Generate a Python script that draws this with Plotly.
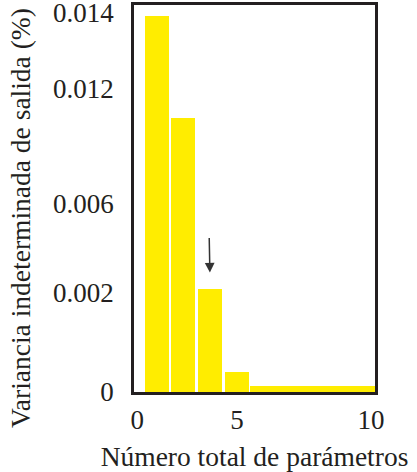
import numpy as np
import plotly.graph_objects as go

# ---- data ----
params = [2, 3, 4, 5]
variance = [0.0139, 0.0105, 0.0022, 0.0004]
tail_params = [6, 7, 8, 9, 10]
tail_variance = [0.00012, 0.00012, 0.00012, 0.00012, 0.00012]

y_tick_values = [0, 0.002, 0.006, 0.012, 0.014]
y_tick_labels = ["0", "0.002", "0.006", "0.012", "0.014"]
x_tick_labels = ["0", "5", "10"]
arrow_param = 4

# ---- layout constants ----
# the source figure uses an unevenly spaced value axis; display positions of its ticks:
Y_TICK_POS = [0, 99, 188, 303, 379.5]
Y_RANGE = [0, 387]
X_RANGE = [1.157, 10.149]
x_tick_pos = [X_RANGE[0] + 0.12, 5, 10]

FRAME = "#231f20"
YELLOW = "#ffed00"
FONT = "Liberation Serif"


def to_display(v):
    return np.interp(v, y_tick_values, Y_TICK_POS)


fig = go.Figure()
fig.add_trace(go.Bar(
    x=params, y=to_display(variance), width=[0.9] * len(params),
    marker=dict(color=YELLOW, line=dict(width=0)), showlegend=False,
))
fig.add_trace(go.Bar(
    x=tail_params, y=to_display(tail_variance), width=[1.0] * len(tail_params),
    marker=dict(color=YELLOW, line=dict(width=0)), showlegend=False,
))

fig.add_annotation(
    x=arrow_param, y=float(to_display(variance[params.index(arrow_param)])),
    xref="x", yref="y", text="", showarrow=True, ax=-1, ay=-52,
    arrowhead=2, arrowsize=1.3, arrowwidth=1.5, arrowcolor="#333333", standoff=16,
)

fig.add_annotation(
    x=-0.473, y=0.4496, xref="paper", yref="paper",
    text="Variancia indeterminada de salida (%)", textangle=-90,
    showarrow=False, xanchor="center", yanchor="middle",
    font=dict(family=FONT, size=27.5, color=FRAME),
)

axis_common = dict(showgrid=False, zeroline=False, automargin=False)
fig.update_layout(
    width=417, height=472,
    margin=dict(l=134, r=42, t=5, b=80, autoexpand=False),
    plot_bgcolor="white", paper_bgcolor="white",
    bargap=0, barmode="overlay",
    font=dict(family=FONT, size=27, color=FRAME),
    xaxis=dict(range=X_RANGE, tickvals=x_tick_pos, ticktext=x_tick_labels, ticks="",
               showline=True, mirror=True, linecolor=FRAME, linewidth=2.5,
               ticklabelstandoff=2, ticklabeloverflow="allow", tickfont=dict(size=27),
               title=dict(text="Número total de parámetros", font=dict(size=27.5), standoff=14),
               **axis_common),
    yaxis=dict(range=Y_RANGE, tickvals=Y_TICK_POS, ticktext=y_tick_labels, ticks="",
               showline=True, mirror=True, linecolor=FRAME, linewidth=2.5,
               ticklabelstandoff=12, ticklabeloverflow="allow", tickfont=dict(size=27),
               **axis_common),
    xaxis2=dict(range=X_RANGE, overlaying="x", side="bottom", anchor="y",
                tickvals=[5], ticks="inside", ticklen=9, tickwidth=2, tickcolor=FRAME,
                showticklabels=False, showline=False, **axis_common),
    yaxis2=dict(range=Y_RANGE, overlaying="y", side="left", anchor="x",
                tickvals=Y_TICK_POS[1:4], ticks="inside", ticklen=10, tickwidth=2, tickcolor=FRAME,
                showticklabels=False, showline=False, **axis_common),
)

fig.write_html("out.html", config={"displayModeBar": False},
               post_script="document.body.style.margin='0';")
